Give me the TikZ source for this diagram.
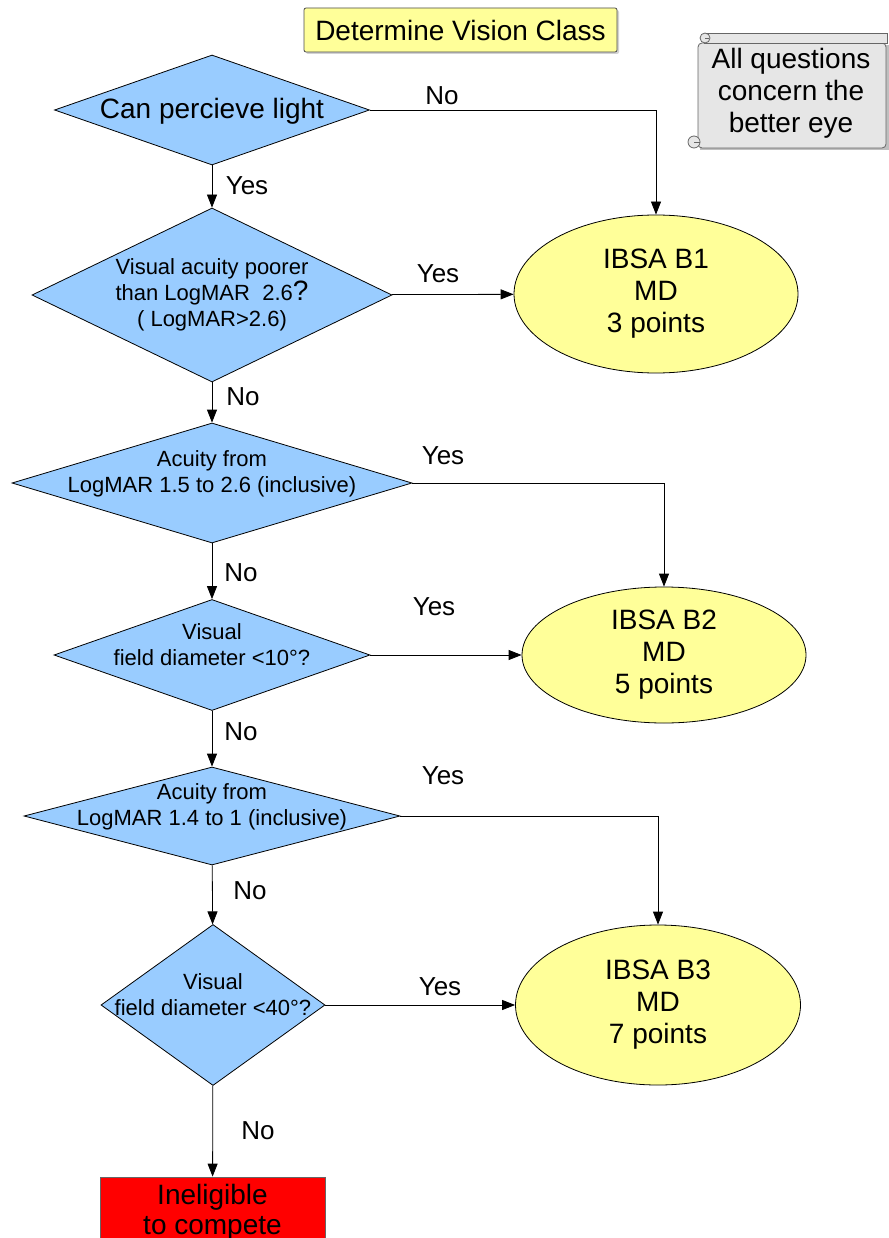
\documentclass[tikz,border=0pt]{standalone}
\usepackage{fontspec}
\setmainfont{Liberation Sans}
\usetikzlibrary{arrows.meta,shapes.geometric,shadows}
\definecolor{qblue}{HTML}{99CCFF}
\definecolor{ryellow}{HTML}{FFFF99}
\definecolor{notegray}{HTML}{E6E6E6}
\tikzset{
    %Define standard arrow tip
    >={Triangle[length=13pt,width=10pt]},
    %Define style for boxes
    titlebox/.style={
           rectangle,
           rounded corners=2pt,
           draw=black!70, line width=0.8pt,
           minimum width=313pt,
           minimum height=44pt,
           font=\fontsize{28}{32}\selectfont,
           fill=ryellow,
           drop shadow={shadow xshift=2pt,shadow yshift=-2pt,fill=black!35}
           },
    decision/.style={
           diamond,
           draw=black, line width=0.8pt,
           fill=qblue,
           inner sep=0pt
           },
    question/.style={
           font=\fontsize{22}{26}\selectfont,
           align=center
           },
    outcome/.style={
           ellipse,
           draw=black, line width=0.8pt,
           fill=ryellow,
           font=\fontsize{28}{32}\selectfont,
           align=center
           },
    stopbox/.style={
           rectangle,
           draw=black!60, line width=0.8pt,
           fill=red,
           minimum width=225pt,
           minimum height=70pt,
           font=\fontsize{28}{30}\selectfont,
           align=center
           },
    scrollpart/.style={
           draw=black!60, line width=0.8pt,
           fill=notegray
           },
    % Define arrow style
    pil/.style={
           ->,
           line width=0.8pt},
    answer/.style={font=\fontsize{26}{26}\selectfont}
}

\begin{document}
\begin{tikzpicture}[x=1pt,y=-1pt]
\useasboundingbox (0,0) rectangle (888,1238);
\node[titlebox](title) at (460.5,30){Determine Vision Class};
% note scroll
\fill[black!25] (700,45) rectangle (889,150);
\draw[scrollpart, rounded corners=4pt] (698,43) -- (886,43) -- (886,148) -- (698,148) -- cycle;
\draw[scrollpart] (704,33) -- (887,33) -- (887,43) -- (704,43);
\draw[scrollpart] (705,38) circle (5);
\draw[black!60] (705,38) -- (709,38);
\draw[scrollpart] (694,142) circle (6);
\draw[black!60] (694,142) -- (700,142);
\node[font=\fontsize{28}{32}\selectfont, align=center](note) at (791,93){All questions\\concern the\\better eye};
% questions
\node[decision, minimum width=315pt, minimum height=110pt](d1) at (212,110){};
\node[font=\fontsize{28}{32}\selectfont](d1t) at ([yshift=-1pt]d1){Can percieve light};
\node[decision, minimum width=360pt, minimum height=174pt](d2) at (212,295){};
\node[question](d2t) at (d2){Visual acuity poorer\\than LogMAR\ \ 2.6{\fontsize{28}{26}\selectfont ?}\\( LogMAR>2.6)};
\node[decision, minimum width=400pt, minimum height=120pt](d3) at (212,483){};
\node[question](d3t) at ([yshift=9pt]d3){Acuity from\\LogMAR 1.5 to 2.6 (inclusive)};
\node[decision, minimum width=316pt, minimum height=111pt](d4) at (212,655){};
\node[question](d4t) at ([yshift=10pt]d4){Visual\\field diameter <10°?};
\node[decision, minimum width=376pt, minimum height=98pt](d5) at (212,816){};
\node[question](d5t) at ([yshift=9pt]d5){Acuity from\\LogMAR 1.4 to 1 (inclusive)};
\node[decision, minimum width=224pt, minimum height=161pt](d6) at (213,1005){};
\node[question](d6t) at ([yshift=10pt]d6){Visual\\field diameter <40°?};
% outcomes
\node[outcome, minimum width=284pt, minimum height=158pt](e1) at (656,294){IBSA B1\\MD\\3 points};
\node[outcome, minimum width=284pt, minimum height=136pt](e2) at (664,655){IBSA B2\\MD\\5 points};
\node[outcome, minimum width=285pt, minimum height=160pt](e3) at (658,1005){IBSA B3\\MD\\7 points};
\node[stopbox](stop) at (212.5,1212){Ineligible\\to compete};
% connectors
\draw[pil] (d1.east) -| (e1.north);
\draw[pil] (d1) -- (d2);
\draw[pil] (d2) -- (e1);
\draw[pil] (d2) -- (d3);
\draw[pil] (d3.east) -| (e2.north);
\draw[pil] (d3) -- (d4);
\draw[pil] (d4) -- (e2.west);
\draw[pil] (d4) -- (d5);
\draw[pil] (d5.east) -| (e3.north);
\draw[pil] (d5) -- (d6);
\draw[pil] (d6) -- (e3);
\draw[pil] (d6) -- (stop);
% answers
\node[answer](a1) at (442,96){No};
\node[answer](a2) at (247,186){Yes};
\node[answer](a3) at (438,274){Yes};
\node[answer](a4) at (243,397){No};
\node[answer](a5) at (443,456){Yes};
\node[answer](a6) at (241,573){No};
\node[answer](a7) at (434,607){Yes};
\node[answer](a8) at (241,732){No};
\node[answer](a9) at (443,776){Yes};
\node[answer](a10) at (250,891){No};
\node[answer](a11) at (440,987){Yes};
\node[answer](a12) at (258,1131){No};
\end{tikzpicture}
\end{document}
